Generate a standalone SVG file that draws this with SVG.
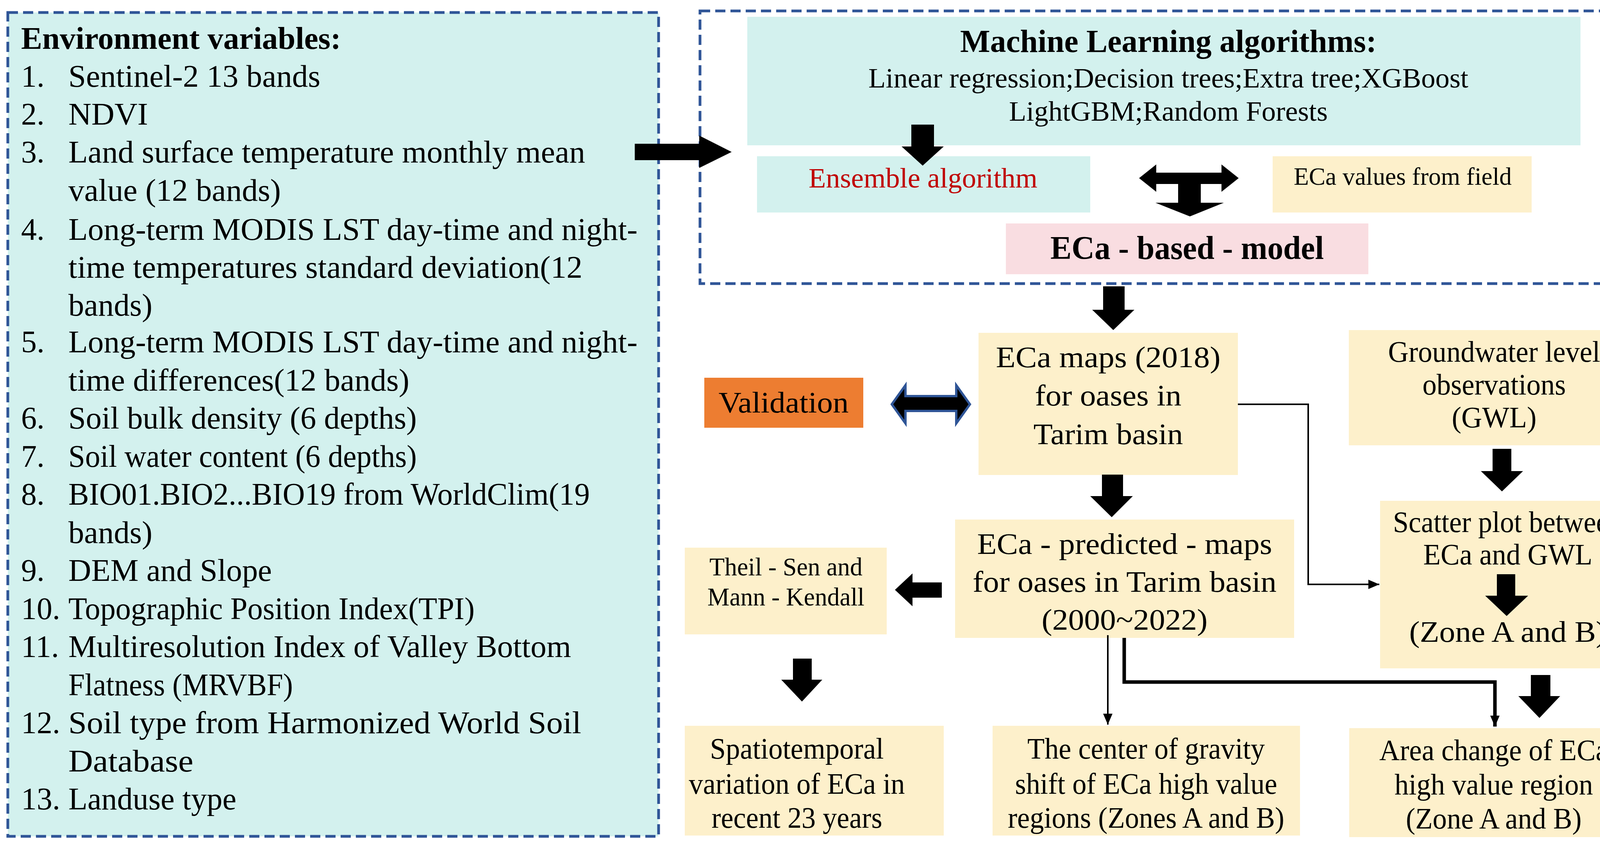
<svg xmlns="http://www.w3.org/2000/svg" width="4212" height="2176" viewBox="0 0 4212 2176">
<style>
text{font-family:"Liberation Serif","Times New Roman","DejaVu Serif",serif;fill:#000}
.dash{fill:none;stroke:#2f5597;stroke-width:7;stroke-dasharray:26 13}
.cy{fill:#d3f1ee}.cr{fill:#fdf0cb}
.l{font-size:80px}.c{font-size:76px;text-anchor:middle}.s{font-size:66px;text-anchor:middle}
.b{font-weight:bold}
.ar{fill:#000}
.ln{fill:none;stroke:#000}
</style>
<defs>
<marker id="ah" markerUnits="userSpaceOnUse" markerWidth="30" markerHeight="30" refX="28" refY="12" orient="auto"><path d="M0,0 L28,12 L0,24 Z" fill="#000"/></marker>
</defs>
<rect width="4212" height="2176" fill="#fff"/>
<g id="env">
<rect x="20" y="32" width="1666" height="2109" class="cy"/>
<rect x="20" y="32" width="1666" height="2109" class="dash"/>
<text x="54" y="125" class="l b" textLength="819" lengthAdjust="spacingAndGlyphs">Environment variables:</text>
<g class="l">
<text x="54" y="222">1.</text><text x="175" y="222" textLength="645" lengthAdjust="spacingAndGlyphs">Sentinel-2 13 bands</text>
<text x="54" y="319">2.</text><text x="175" y="319" textLength="204" lengthAdjust="spacingAndGlyphs">NDVI</text>
<text x="54" y="416">3.</text><text x="175" y="416" textLength="1323" lengthAdjust="spacingAndGlyphs">Land surface temperature monthly mean</text>
<text x="175" y="514" textLength="544" lengthAdjust="spacingAndGlyphs">value (12 bands)</text>
<text x="54" y="614">4.</text><text x="175" y="614" textLength="1457" lengthAdjust="spacingAndGlyphs">Long-term MODIS LST day-time and night-</text>
<text x="175" y="711" textLength="1316" lengthAdjust="spacingAndGlyphs">time temperatures standard deviation(12</text>
<text x="175" y="808" textLength="215" lengthAdjust="spacingAndGlyphs">bands)</text>
<text x="54" y="902">5.</text><text x="175" y="902" textLength="1457" lengthAdjust="spacingAndGlyphs">Long-term MODIS LST day-time and night-</text>
<text x="175" y="1000" textLength="873" lengthAdjust="spacingAndGlyphs">time differences(12 bands)</text>
<text x="54" y="1097">6.</text><text x="175" y="1097" textLength="892" lengthAdjust="spacingAndGlyphs">Soil bulk density (6 depths)</text>
<text x="54" y="1195">7.</text><text x="175" y="1195" textLength="892" lengthAdjust="spacingAndGlyphs">Soil water content  (6 depths)</text>
<text x="54" y="1292">8.</text><text x="175" y="1292" textLength="1335" lengthAdjust="spacingAndGlyphs">BIO01.BIO2...BIO19 from WorldClim(19</text>
<text x="175" y="1390" textLength="215" lengthAdjust="spacingAndGlyphs">bands)</text>
<text x="54" y="1487">9.</text><text x="175" y="1487" textLength="521" lengthAdjust="spacingAndGlyphs">DEM and Slope</text>
<text x="54" y="1585">10.</text><text x="175" y="1585" textLength="1040" lengthAdjust="spacingAndGlyphs">Topographic Position Index(TPI)</text>
<text x="54" y="1682">11.</text><text x="175" y="1682" textLength="1287" lengthAdjust="spacingAndGlyphs">Multiresolution Index of Valley Bottom</text>
<text x="175" y="1780" textLength="575" lengthAdjust="spacingAndGlyphs">Flatness (MRVBF)</text>
<text x="54" y="1877">12.</text><text x="175" y="1877" textLength="1313" lengthAdjust="spacingAndGlyphs">Soil type from Harmonized World Soil</text>
<text x="175" y="1975" textLength="320" lengthAdjust="spacingAndGlyphs">Database</text>
<text x="54" y="2072">13.</text><text x="175" y="2072" textLength="430" lengthAdjust="spacingAndGlyphs">Landuse type</text>
</g>
</g>
<g id="mlgroup"><rect x="1792" y="28" width="2407" height="698" class="dash"/></g>
<g id="ml">
<rect x="1913" y="43" width="2133" height="329" class="cy"/>
<text x="2991" y="133" class="c b" style="font-size:82px" textLength="1066" lengthAdjust="spacingAndGlyphs">Machine Learning algorithms:</text>
<text x="2991" y="224" class="c" style="font-size:72px" textLength="1536" lengthAdjust="spacingAndGlyphs">Linear regression;Decision trees;Extra tree;XGBoost</text>
<text x="2991" y="309" class="c" style="font-size:72px" textLength="816" lengthAdjust="spacingAndGlyphs">LightGBM;Random Forests</text>
</g>
<g id="ensemble">
<rect x="1938" y="400" width="853" height="144" class="cy"/>
<text x="2363" y="480" class="c" style="fill:#c00000;font-size:72px" textLength="586" lengthAdjust="spacingAndGlyphs">Ensemble algorithm</text>
</g>
<g id="field">
<rect x="3258" y="400" width="663" height="144" class="cr"/>
<text x="3591" y="473" class="c" style="font-size:64px" textLength="558" lengthAdjust="spacingAndGlyphs">ECa values from field</text>
</g>
<g id="model">
<rect x="2575" y="572" width="928" height="130" fill="#f9dde1"/>
<text x="3039" y="663" class="c b" style="font-size:84px" textLength="700" lengthAdjust="spacingAndGlyphs">ECa - based - model</text>
</g>
<g id="validation">
<rect x="1803" y="967" width="407" height="128" fill="#ed7d31"/>
<text x="2006" y="1056" class="c" textLength="333" lengthAdjust="spacingAndGlyphs">Validation</text>
</g>
<g id="maps2018">
<rect x="2505" y="852" width="664" height="364" class="cr"/>
<text x="2837" y="940" class="c" textLength="575" lengthAdjust="spacingAndGlyphs">ECa maps (2018)</text>
<text x="2837" y="1038" class="c" textLength="375" lengthAdjust="spacingAndGlyphs">for oases in</text>
<text x="2837" y="1137" class="c" textLength="383" lengthAdjust="spacingAndGlyphs">Tarim basin</text>
</g>
<g id="gwl">
<rect x="3453" y="845" width="743" height="295" class="cr"/>
<text x="3825" y="926" class="c" textLength="543" lengthAdjust="spacingAndGlyphs">Groundwater level</text>
<text x="3825" y="1010" class="c" textLength="367" lengthAdjust="spacingAndGlyphs">observations</text>
<text x="3825" y="1094" class="c" textLength="217" lengthAdjust="spacingAndGlyphs">(GWL)</text>
</g>
<g id="predicted">
<rect x="2445" y="1330" width="868" height="303" class="cr"/>
<text x="2879" y="1418" class="c" textLength="755" lengthAdjust="spacingAndGlyphs">ECa - predicted - maps</text>
<text x="2879" y="1515" class="c" textLength="778" lengthAdjust="spacingAndGlyphs">for oases in Tarim basin</text>
<text x="2879" y="1612" class="c" textLength="425" lengthAdjust="spacingAndGlyphs">(2000~2022)</text>
</g>
<g id="theil">
<rect x="1753" y="1402" width="517" height="222" class="cr"/>
<text x="2012" y="1473" class="s" textLength="392" lengthAdjust="spacingAndGlyphs">Theil - Sen and</text>
<text x="2012" y="1550" class="s" textLength="402" lengthAdjust="spacingAndGlyphs">Mann - Kendall</text>
</g>
<g id="scatter">
<rect x="3533" y="1282" width="658" height="429" class="cr"/>
<text x="3860" y="1362" class="c" textLength="588" lengthAdjust="spacingAndGlyphs">Scatter plot between</text>
<text x="3860" y="1445" class="c" textLength="433" lengthAdjust="spacingAndGlyphs">ECa and GWL</text>
<text x="3860" y="1643" class="c" textLength="505" lengthAdjust="spacingAndGlyphs">(Zone A and B)</text>
</g>
<g id="spatio">
<rect x="1753" y="1858" width="663" height="281" class="cr"/>
<text x="2040" y="1942" class="c" textLength="445" lengthAdjust="spacingAndGlyphs">Spatiotemporal</text>
<text x="2040" y="2032" class="c" textLength="553" lengthAdjust="spacingAndGlyphs">variation of ECa in</text>
<text x="2040" y="2119" class="c" textLength="437" lengthAdjust="spacingAndGlyphs">recent 23 years</text>
</g>
<g id="gravity">
<rect x="2541" y="1858" width="787" height="281" class="cr"/>
<text x="2934" y="1942" class="c" textLength="608" lengthAdjust="spacingAndGlyphs">The center of gravity</text>
<text x="2934" y="2032" class="c" textLength="671" lengthAdjust="spacingAndGlyphs">shift of ECa high value</text>
<text x="2934" y="2119" class="c" textLength="708" lengthAdjust="spacingAndGlyphs">regions (Zones A and B)</text>
</g>
<g id="area">
<rect x="3454" y="1864" width="740" height="279" class="cr"/>
<text x="3824" y="1946" class="c" textLength="586" lengthAdjust="spacingAndGlyphs">Area change of ECa</text>
<text x="3824" y="2034" class="c" textLength="508" lengthAdjust="spacingAndGlyphs">high value region</text>
<text x="3824" y="2121" class="c" textLength="450" lengthAdjust="spacingAndGlyphs">(Zone A and B)</text>
</g>
<g id="connectors">
<polygon class="ar" points="1625,368 1790,368 1790,347 1873,389 1790,430 1790,410 1625,410"/>
<polygon class="ar" points="2333,319 2391,319 2391,375 2416,375 2362,424 2308,375 2333,375"/>
<polygon class="ar" points="2916,456 2960,421 2960,442 3127,442 3127,421 3171,456 3127,491 3127,471 2960,471 2960,491"/>
<polygon class="ar" points="3016,471 3074,471 3074,519 3133,519 3046,554 2958,519 3016,519"/>
<polygon class="ar" points="2824,733 2879,733 2879,793 2904,793 2850,845 2796,793 2824,793"/>
<polygon points="2283,1035 2318,986 2318,1014 2448,1014 2448,986 2483,1035 2448,1084 2448,1052 2318,1052 2318,1084" fill="#000" stroke="#2f5597" stroke-width="6"/>
<polygon class="ar" points="2821,1215 2875,1215 2875,1270 2900,1270 2846,1324 2791,1270 2821,1270"/>
<polygon class="ar" points="2411,1491 2336,1491 2336,1468 2291,1510 2336,1552 2336,1530 2411,1530"/>
<polygon class="ar" points="3821,1149 3869,1149 3869,1206 3899,1206 3845,1258 3791,1206 3821,1206"/>
<polygon class="ar" points="3832,1470 3879,1470 3879,1525 3912,1525 3857,1577 3802,1525 3832,1525"/>
<polygon class="ar" points="2030,1686 2078,1686 2078,1740 2105,1740 2053,1796 2000,1740 2030,1740"/>
<polygon class="ar" points="3919,1728 3969,1728 3969,1782 3994,1782 3941,1838 3887,1782 3919,1782"/>
<path class="ln" stroke-width="4" d="M3169,1035 H3349 V1496 H3531" marker-end="url(#ah)"/>
<path class="ln" stroke-width="4" d="M2836,1626 V1855" marker-end="url(#ah)"/>
<path class="ln" stroke-width="9" d="M2878,1633 V1746 H3827 V1860" marker-end="url(#ah)"/>
</g>
</svg>
